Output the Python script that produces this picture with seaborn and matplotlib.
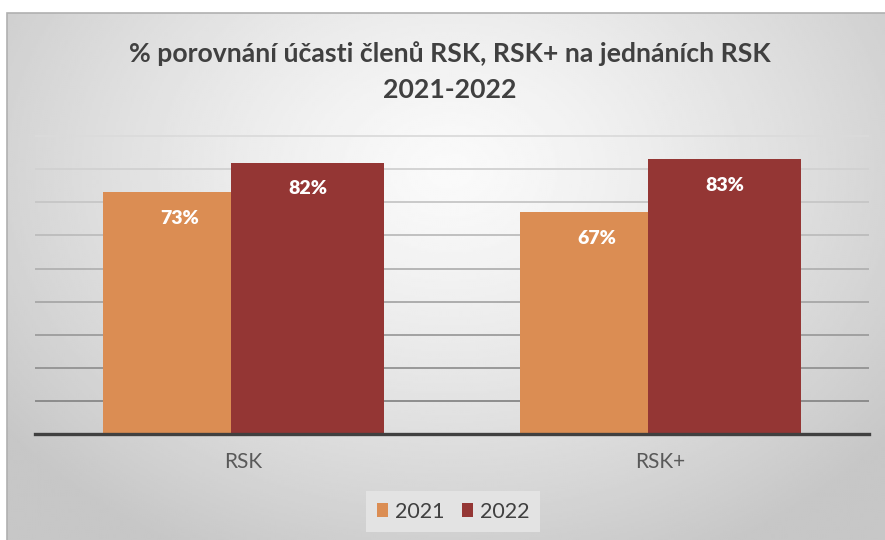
import numpy as np
import pandas as pd
import matplotlib
matplotlib.use("Agg")
import matplotlib.pyplot as plt
import seaborn as sns
from matplotlib.patches import Rectangle

# ---- data ----
categories = ["RSK", "RSK+"]
years = ["2021", "2022"]
values_2021 = [0.73, 0.67]
values_2022 = [0.82, 0.83]
colors = ["#DB8D53", "#943634"]
title = "% porovnání účasti členů RSK, RSK+ na jednáních RSK\n2021-2022"

df = pd.DataFrame({
    "kategorie": categories * 2,
    "rok": [years[0]] * len(categories) + [years[1]] * len(categories),
    "hodnota": values_2021 + values_2022,
})

sns.set_theme(style="white")
plt.rcParams['font.family'] = ['Lato', 'DejaVu Sans']

W, H = 885, 540
fig = plt.figure(figsize=(W / 100, H / 100), dpi=100)
fig.patch.set_facecolor("white")

# ---- background radial gradient ----
bg = fig.add_axes([7 / W, 0, (W - 7) / W, (H - 13) / H], zorder=-10)
ny, nx = 264, 440
yy, xx = np.mgrid[0:ny, 0:nx]
px = xx / (nx - 1) * (W - 7) + 7
py = yy / (ny - 1) * (H - 13) + 13
d = np.clip(np.hypot((px - 450) / 560, (py - 170) / 430), 0, 1)
img = 0.98 + (0.78 - 0.98) * d ** 1.3
bg.imshow(img, cmap='gray', vmin=0, vmax=1, aspect='auto', extent=[0, 1, 0, 1],
          origin='upper', interpolation='bilinear')
bg.set_axis_off()
fig.add_artist(Rectangle((7 / W, -0.01), (W - 7) / W + 0.02, (H - 13) / H + 0.01,
                         transform=fig.transFigure, fill=False,
                         edgecolor='#b0b0b0', lw=1.2))

# ---- main axes ----
base_px, top_px = 434, 130
scale = 331.0
ax = fig.add_axes([35 / W, (H - base_px) / H, (869 - 35) / W, (base_px - top_px) / H])
ax.patch.set_alpha(0)

sns.barplot(data=df, x="kategorie", y="hodnota", hue="rok", hue_order=years,
            palette=colors, width=0.614, saturation=1, linewidth=0, ax=ax, zorder=3)

bar_w = 0.367
for cont in ax.containers:
    for bar in cont:
        cx = bar.get_x() + bar.get_width() / 2
        bar.set_width(bar_w)
        bar.set_x(cx - bar_w / 2)
        h = bar.get_height()
        ax.annotate(f"{round(h * 100)}%", xy=(cx, h), xytext=(0, -19),
                    textcoords='offset points', ha='center', va='center',
                    color='white', fontweight='heavy', fontsize=14, zorder=5)

ax.set_xlim(-0.5, 1.5)
ax.set_ylim(0, (base_px - top_px) / scale)
ax.set_yticks(np.arange(1, 10) / 10)
ax.yaxis.grid(True, linewidth=1.3)
grid_cols = np.linspace(0.53, 0.86, 9)
for g, c in zip(ax.get_ygridlines(), grid_cols):
    g.set_color(str(c))
ax.set_axisbelow(True)
ax.tick_params(axis='y', length=0, labelleft=False)
ax.tick_params(axis='x', length=0, pad=13, labelsize=15, labelcolor='#595959')
ax.set_xlabel("")
ax.set_ylabel("")
for s in ["top", "left", "right"]:
    ax.spines[s].set_visible(False)
ax.spines["bottom"].set_color("#404040")
ax.spines["bottom"].set_linewidth(2.4)
ax.spines["bottom"].set_zorder(6)

handles, labels = ax.get_legend_handles_labels()
if ax.get_legend() is not None:
    ax.get_legend().remove()
leg = fig.legend(handles, labels, loc='center', bbox_to_anchor=(453 / W, (H - 511.5) / H),
                 ncol=2, frameon=True, facecolor='#e3e3e3', edgecolor='none', framealpha=1,
                 fancybox=False, fontsize=15.5, handlelength=0.55, handleheight=0.6,
                 handletextpad=0.3, columnspacing=0.8, labelcolor='#404040',
                 borderpad=0.5)

fig.text(449.5 / W, (H - 72) / H, title, ha='center', va='center', fontsize=19.2,
         fontweight='bold', color='#404040', linespacing=1.6)

fig.savefig("out.png", dpi=100)
